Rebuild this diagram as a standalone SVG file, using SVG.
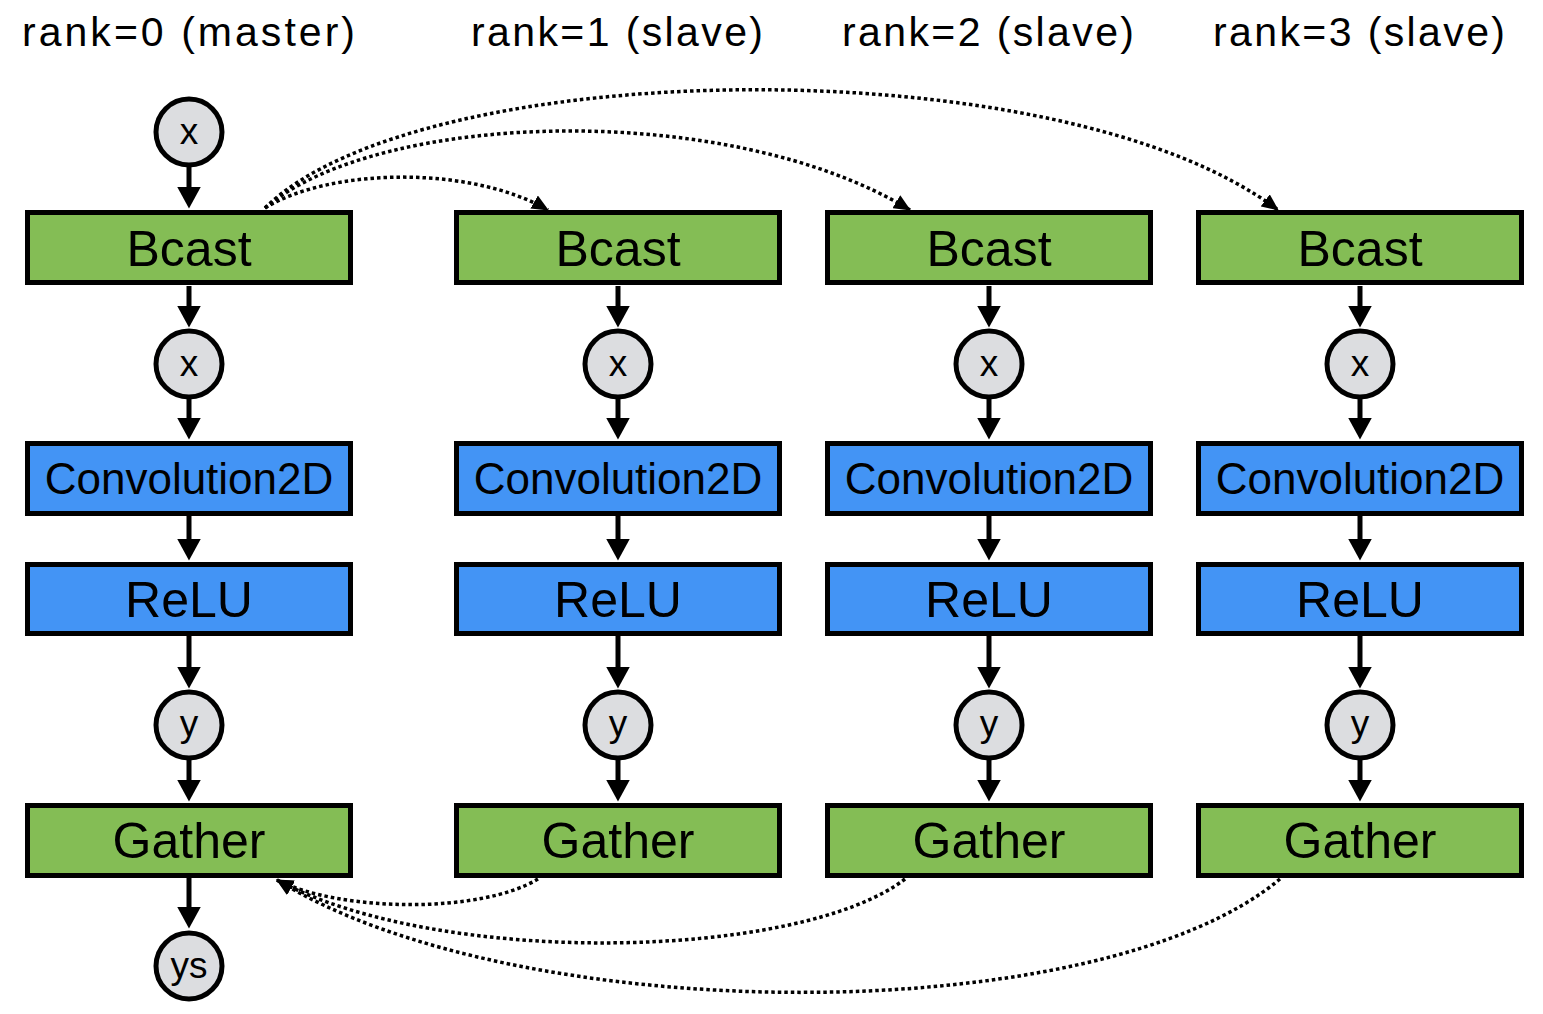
<svg xmlns="http://www.w3.org/2000/svg" width="1543" height="1014" viewBox="0 0 1543 1014">
<style>
.bg{fill:#ffffff}
.green{fill:#84bd55;stroke:#000;stroke-width:5}
.blue{fill:#4394f5;stroke:#000;stroke-width:5}
.var{fill:#dcdde0;stroke:#000;stroke-width:5}
.t{font-family:"Liberation Sans","Noto Sans",Arial,sans-serif;fill:#000;text-anchor:middle}
.big{font-size:50px}
.conv{font-size:44px}
.vt{font-size:37px}
.hdr{font-size:41px;text-anchor:start}
.edge{stroke:#000;stroke-width:5;fill:none;marker-end:url(#ah)}
.dot{stroke:#000;stroke-width:3.5;fill:none;stroke-dasharray:3.5 3;marker-end:url(#dh)}
</style>
<defs>
<marker id="ah" markerUnits="userSpaceOnUse" markerWidth="22" markerHeight="24" refX="0.5" refY="12" orient="auto">
<path d="M0,0 L22,12 L0,24 z" fill="#000"/>
</marker>
<marker id="dh" markerUnits="userSpaceOnUse" markerWidth="17" markerHeight="15" refX="16" refY="7.5" orient="auto">
<path d="M0,0 L17,7.5 L0,15 z" fill="#000"/>
</marker>
</defs>
<rect class="bg" x="0" y="0" width="1543" height="1014"/>

<g id="headers">
<text class="t hdr" x="22" y="46" textLength="333" lengthAdjust="spacing">rank=0 (master)</text>
<text class="t hdr" x="471" y="46" textLength="292" lengthAdjust="spacing">rank=1 (slave)</text>
<text class="t hdr" x="842" y="46" textLength="292" lengthAdjust="spacing">rank=2 (slave)</text>
<text class="t hdr" x="1213" y="46" textLength="292" lengthAdjust="spacing">rank=3 (slave)</text>
</g>

<g id="connectors">
<line class="edge" x1="189" y1="167" x2="189" y2="187"/>
<line class="edge" x1="189" y1="877" x2="189" y2="907"/>
<line class="edge" x1="189" y1="286" x2="189" y2="306"/>
<line class="edge" x1="189" y1="398" x2="189" y2="418"/>
<line class="edge" x1="189" y1="516" x2="189" y2="539"/>
<line class="edge" x1="189" y1="636" x2="189" y2="667"/>
<line class="edge" x1="189" y1="759" x2="189" y2="780"/>
<line class="edge" x1="618" y1="286" x2="618" y2="306"/>
<line class="edge" x1="618" y1="398" x2="618" y2="418"/>
<line class="edge" x1="618" y1="516" x2="618" y2="539"/>
<line class="edge" x1="618" y1="636" x2="618" y2="667"/>
<line class="edge" x1="618" y1="759" x2="618" y2="780"/>
<line class="edge" x1="989" y1="286" x2="989" y2="306"/>
<line class="edge" x1="989" y1="398" x2="989" y2="418"/>
<line class="edge" x1="989" y1="516" x2="989" y2="539"/>
<line class="edge" x1="989" y1="636" x2="989" y2="667"/>
<line class="edge" x1="989" y1="759" x2="989" y2="780"/>
<line class="edge" x1="1360" y1="286" x2="1360" y2="306"/>
<line class="edge" x1="1360" y1="398" x2="1360" y2="418"/>
<line class="edge" x1="1360" y1="516" x2="1360" y2="539"/>
<line class="edge" x1="1360" y1="636" x2="1360" y2="667"/>
<line class="edge" x1="1360" y1="759" x2="1360" y2="780"/>
<path class="dot" d="M265,208 C330,168 470,165 548,210"/>
<path class="dot" d="M265,208 C380,110 730,100 910,210"/>
<path class="dot" d="M265,208 C420,55 1060,45 1278,210"/>
<path class="dot" d="M538,879 C480,914 340,912 277,880"/>
<path class="dot" d="M905,879 C800,960 440,968 277,880"/>
<path class="dot" d="M1280,879 C1100,1030 520,1030 277,880"/>
</g>

<g id="n-x0"><circle class="var" cx="189" cy="132" r="33"/><text class="t vt" x="189" y="144">x</text></g>

<g id="n-bcast0"><rect class="green" x="27.5" y="212.5" width="323" height="70"/><text class="t big" x="189" y="266">Bcast</text></g>
<g id="n-bcast1"><rect class="green" x="456.5" y="212.5" width="323" height="70"/><text class="t big" x="618" y="266">Bcast</text></g>
<g id="n-bcast2"><rect class="green" x="827.5" y="212.5" width="323" height="70"/><text class="t big" x="989" y="266">Bcast</text></g>
<g id="n-bcast3"><rect class="green" x="1198.5" y="212.5" width="323" height="70"/><text class="t big" x="1360" y="266">Bcast</text></g>

<g id="n-xa0"><circle class="var" cx="189" cy="364" r="33"/><text class="t vt" x="189" y="376">x</text></g>
<g id="n-xa1"><circle class="var" cx="618" cy="364" r="33"/><text class="t vt" x="618" y="376">x</text></g>
<g id="n-xa2"><circle class="var" cx="989" cy="364" r="33"/><text class="t vt" x="989" y="376">x</text></g>
<g id="n-xa3"><circle class="var" cx="1360" cy="364" r="33"/><text class="t vt" x="1360" y="376">x</text></g>

<g id="n-conv0"><rect class="blue" x="27.5" y="443.5" width="323" height="70"/><text class="t conv" x="189" y="494">Convolution2D</text></g>
<g id="n-conv1"><rect class="blue" x="456.5" y="443.5" width="323" height="70"/><text class="t conv" x="618" y="494">Convolution2D</text></g>
<g id="n-conv2"><rect class="blue" x="827.5" y="443.5" width="323" height="70"/><text class="t conv" x="989" y="494">Convolution2D</text></g>
<g id="n-conv3"><rect class="blue" x="1198.5" y="443.5" width="323" height="70"/><text class="t conv" x="1360" y="494">Convolution2D</text></g>

<g id="n-relu0"><rect class="blue" x="27.5" y="564.5" width="323" height="69"/><text class="t big" x="189" y="617">ReLU</text></g>
<g id="n-relu1"><rect class="blue" x="456.5" y="564.5" width="323" height="69"/><text class="t big" x="618" y="617">ReLU</text></g>
<g id="n-relu2"><rect class="blue" x="827.5" y="564.5" width="323" height="69"/><text class="t big" x="989" y="617">ReLU</text></g>
<g id="n-relu3"><rect class="blue" x="1198.5" y="564.5" width="323" height="69"/><text class="t big" x="1360" y="617">ReLU</text></g>

<g id="n-y0"><circle class="var" cx="189" cy="725" r="33"/><text class="t vt" x="189" y="736">y</text></g>
<g id="n-y1"><circle class="var" cx="618" cy="725" r="33"/><text class="t vt" x="618" y="736">y</text></g>
<g id="n-y2"><circle class="var" cx="989" cy="725" r="33"/><text class="t vt" x="989" y="736">y</text></g>
<g id="n-y3"><circle class="var" cx="1360" cy="725" r="33"/><text class="t vt" x="1360" y="736">y</text></g>

<g id="n-gather0"><rect class="green" x="27.5" y="805.5" width="323" height="70"/><text class="t big" x="189" y="858">Gather</text></g>
<g id="n-gather1"><rect class="green" x="456.5" y="805.5" width="323" height="70"/><text class="t big" x="618" y="858">Gather</text></g>
<g id="n-gather2"><rect class="green" x="827.5" y="805.5" width="323" height="70"/><text class="t big" x="989" y="858">Gather</text></g>
<g id="n-gather3"><rect class="green" x="1198.5" y="805.5" width="323" height="70"/><text class="t big" x="1360" y="858">Gather</text></g>

<g id="n-ys"><circle class="var" cx="189" cy="966" r="33"/><text class="t vt" x="189" y="978">ys</text></g>
</svg>
